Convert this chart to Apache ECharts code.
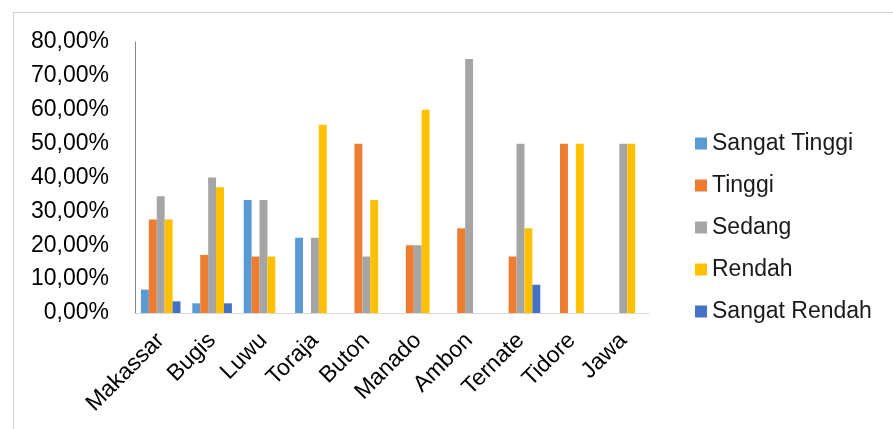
<!DOCTYPE html>
<html>
<head>
<meta charset="utf-8">
<script src="https://cdn.jsdelivr.net/npm/echarts@6/dist/echarts.min.js"></script>
<style>
html,body{margin:0;padding:0;background:#fff;}
#chart{width:893px;height:429px;}
</style>
</head>
<body>
<div id="chart"></div>
<script>
var categories = ['Makassar','Bugis','Luwu','Toraja','Buton','Manado','Ambon','Ternate','Tidore','Jawa'];
var sangatTinggi = [6.90, 2.86, 33.33, 22.22, null, null, null, null, null, null];
var tinggi       = [27.59, 17.14, 16.67, null, 50.00, 20.00, 25.00, 16.67, 50.00, null];
var sedang       = [34.48, 40.00, 33.33, 22.22, 16.67, 20.00, 75.00, 50.00, null, 50.00];
var rendah       = [27.59, 37.14, 16.67, 55.56, 33.33, 60.00, null, 25.00, 50.00, 50.00];
var sangatRendah = [3.45, 2.86, null, null, null, null, null, 8.33, null, null];
var yTicks = [0, 10, 20, 30, 40, 50, 60, 70, 80];

var seriesNames = ['Sangat Tinggi','Tinggi','Sedang','Rendah','Sangat Rendah'];
var seriesData = [sangatTinggi, tinggi, sedang, rendah, sangatRendah];
var colors = ['#5B9BD5','#ED7D31','#A5A5A5','#FFC000','#4472C4'];

var chart = echarts.init(document.getElementById('chart'), null, {renderer:'canvas'});
var font = '"Liberation Sans", Arial, sans-serif';
chart.setOption({
  backgroundColor: '#ffffff',
  animation: false,
  color: colors,
  graphic: [
    {type:'line', shape:{x1:13.5, y1:12.5, x2:893, y2:12.5}, style:{stroke:'#d0d0d2', lineWidth:1}},
    {type:'line', shape:{x1:13.5, y1:12.5, x2:13.5, y2:429}, style:{stroke:'#d0d0d2', lineWidth:1}}
  ],
  grid: {left:135, right:244, top:42, bottom:116, containLabel:false},
  legend: {
    orient:'vertical', left:690, top:127,
    itemWidth:12, itemHeight:12, itemGap:19,
    icon:'rect',
    textStyle:{fontFamily:font, fontSize:23, color:'#1a1a1a'},
    data: seriesNames
  },
  xAxis: {
    type:'category', data:categories,
    axisLine:{show:true, lineStyle:{color:'#d9d9d9', width:1}},
    axisTick:{show:false},
    axisLabel:{interval:0, rotate:45, margin:24, fontFamily:font, fontSize:23, color:'#000'}
  },
  yAxis: {
    type:'value', min:yTicks[0], max:yTicks[yTicks.length-1], interval:10,
    axisLine:{show:true, lineStyle:{color:'#868686', width:1}},
    axisTick:{show:false},
    splitLine:{show:false},
    axisLabel:{margin:26, fontFamily:font, fontSize:23, color:'#000',
      formatter:function(v){return v.toFixed(2).replace('.',',')+'%';}}
  },
  series: seriesNames.map(function(n,i){
    return {name:n, type:'bar', data:seriesData[i], barGap:'0%', barCategoryGap:'23%'};
  })
});
</script>
</body>
</html>
